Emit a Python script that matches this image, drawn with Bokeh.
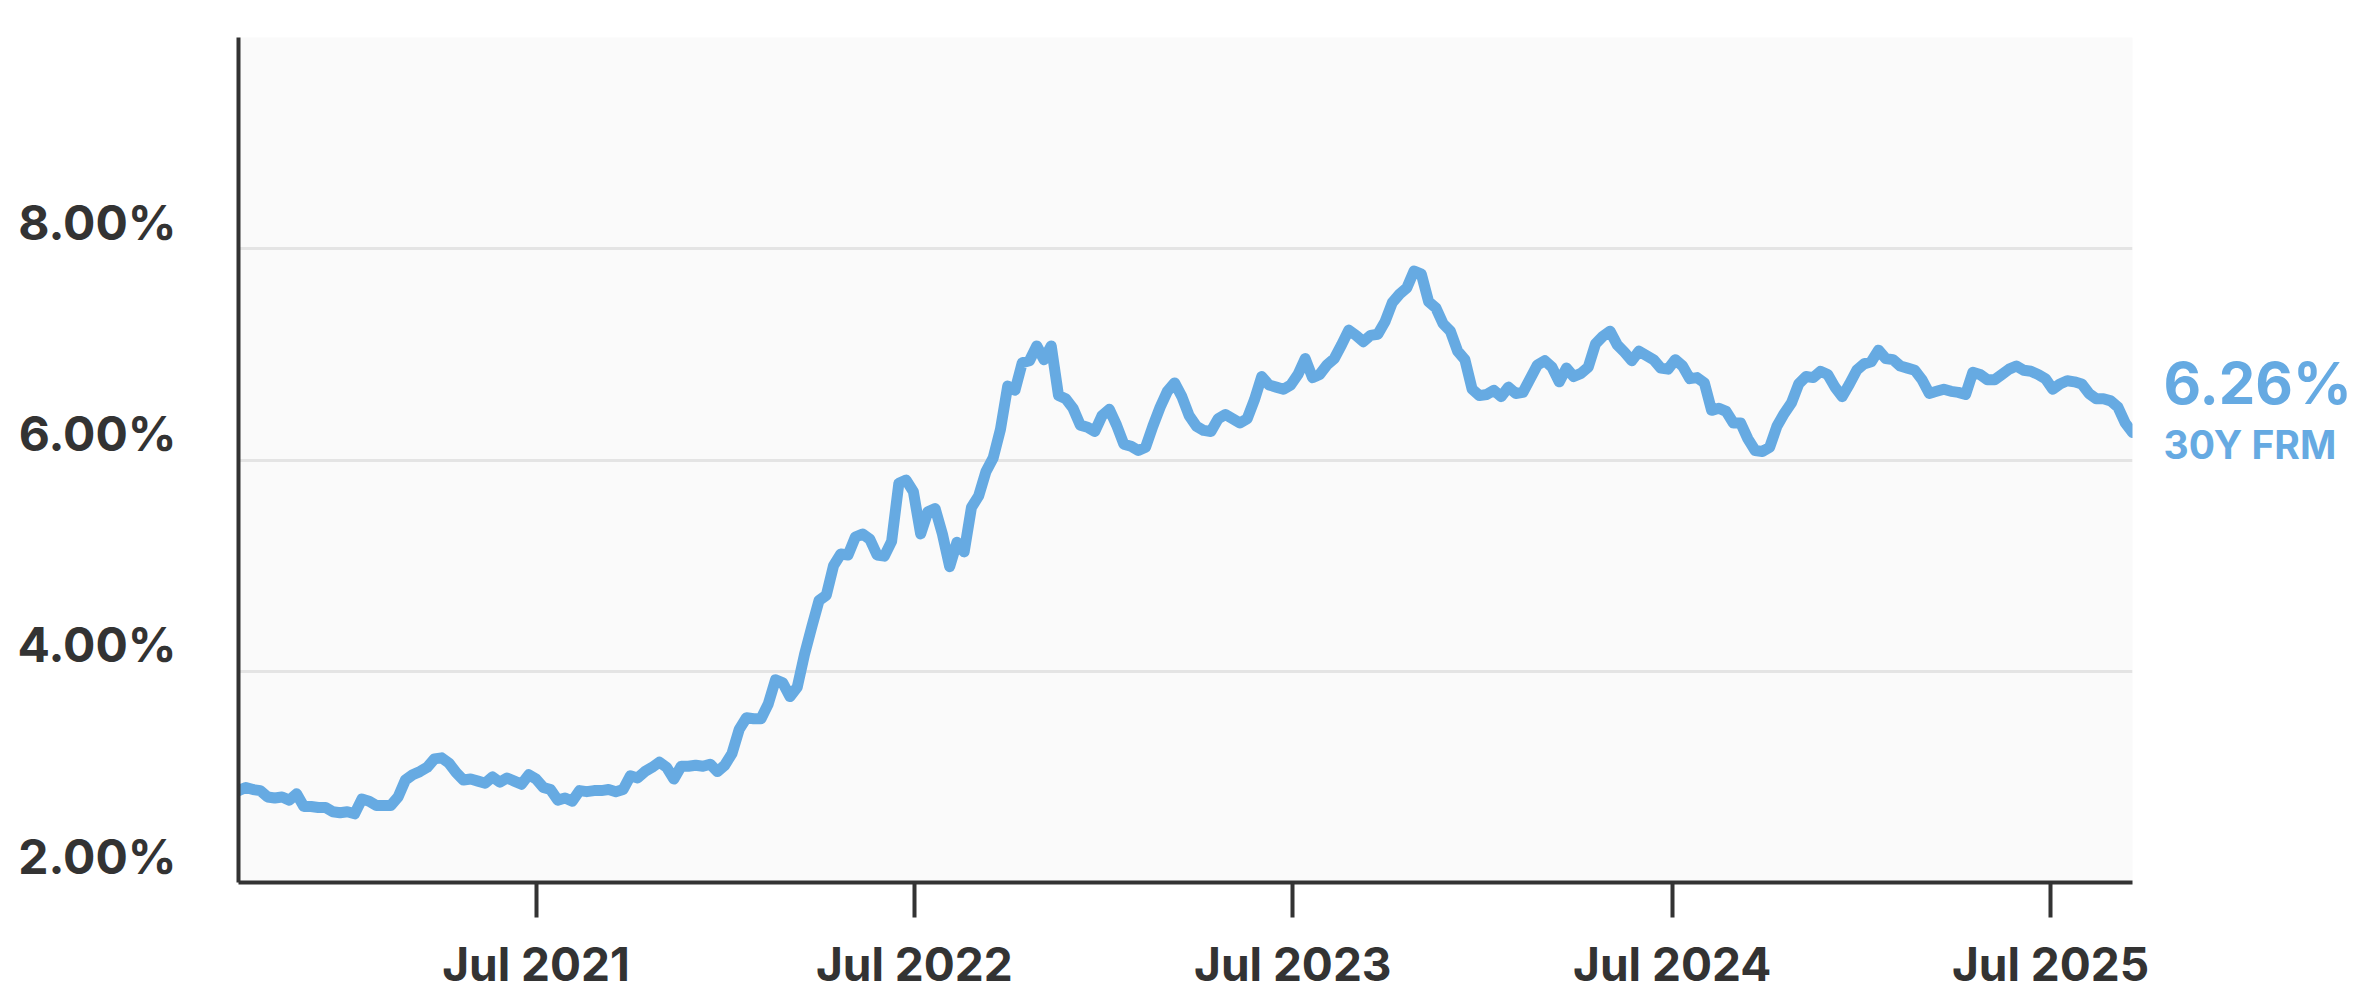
import pandas as pd
from bokeh.plotting import figure
from bokeh.layouts import row
from bokeh.models import Range1d, FixedTicker, DatetimeTickFormatter
from bokeh.embed import file_html
from bokeh.resources import INLINE

# Weekly 30-year fixed-rate mortgage average (%), first week 2020-09-17
start_date = "2020-09-17"
rates_2020 = [2.87, 2.90, 2.88, 2.87, 2.81, 2.80, 2.81, 2.78, 2.84, 2.72, 2.72,
              2.71, 2.71, 2.67, 2.66, 2.67]
rates_2021 = [2.65, 2.79, 2.77, 2.73, 2.73, 2.73, 2.81, 2.97, 3.02, 3.05, 3.09,
              3.17, 3.18, 3.13, 3.04, 2.97, 2.98, 2.96, 2.94, 3.00, 2.95, 2.99,
              2.96, 2.93, 3.02, 2.98, 2.90, 2.88, 2.78, 2.80, 2.77, 2.87, 2.86,
              2.87, 2.87, 2.88, 2.86, 2.88, 3.01, 2.99, 3.05, 3.09, 3.14, 3.09,
              2.98, 3.10, 3.10, 3.11, 3.10, 3.12, 3.05, 3.11]
rates_2022 = [3.22, 3.45, 3.56, 3.55, 3.55, 3.69, 3.92, 3.89, 3.76, 3.85, 4.16,
              4.42, 4.67, 4.72, 5.00, 5.11, 5.10, 5.27, 5.30, 5.25, 5.10, 5.09,
              5.23, 5.78, 5.81, 5.70, 5.30, 5.51, 5.54, 5.30, 4.99, 5.22, 5.13,
              5.55, 5.66, 5.89, 6.02, 6.29, 6.70, 6.66, 6.92, 6.94, 7.08, 6.95,
              7.08, 6.61, 6.58, 6.49, 6.33, 6.31, 6.27, 6.42]
rates_2023 = [6.48, 6.33, 6.15, 6.13, 6.09, 6.12, 6.32, 6.50, 6.65, 6.73, 6.60,
              6.42, 6.32, 6.28, 6.27, 6.39, 6.43, 6.39, 6.35, 6.39, 6.57, 6.79,
              6.71, 6.69, 6.67, 6.71, 6.81, 6.96, 6.78, 6.81, 6.90, 6.96, 7.09,
              7.23, 7.18, 7.12, 7.18, 7.19, 7.31, 7.49, 7.57, 7.63, 7.79, 7.76,
              7.50, 7.44, 7.29, 7.22, 7.03, 6.95, 6.67, 6.61]
rates_2024 = [6.62, 6.66, 6.60, 6.69, 6.63, 6.64, 6.77, 6.90, 6.94, 6.88, 6.74,
              6.87, 6.79, 6.82, 6.88, 7.10, 7.17, 7.22, 7.09, 7.02, 6.94, 7.03,
              6.99, 6.95, 6.87, 6.86, 6.95, 6.89, 6.77, 6.78, 6.73, 6.47, 6.49,
              6.46, 6.35, 6.35, 6.20, 6.09, 6.08, 6.12, 6.32, 6.44, 6.54, 6.72,
              6.79, 6.78, 6.84, 6.81, 6.69, 6.60, 6.72, 6.85]
rates_2025 = [6.91, 6.93, 7.04, 6.96, 6.95, 6.89, 6.87, 6.85, 6.76, 6.63, 6.65,
              6.67, 6.65, 6.64, 6.62, 6.83, 6.81, 6.76, 6.76, 6.81, 6.86, 6.89,
              6.85, 6.84, 6.81, 6.77, 6.67, 6.72, 6.75, 6.74, 6.72, 6.63, 6.58,
              6.58, 6.56, 6.50, 6.35, 6.26]

series_name = "30Y FRM"
y_tick_values = [2, 4, 6, 8]
y_tick_labels = ["2.00%", "4.00%", "6.00%", "8.00%"]
grid_values = [2, 4, 6, 8, 10]
x_tick_dates = ["2021-07-01", "2022-07-01", "2023-07-01", "2024-07-01", "2025-07-01"]

rates = rates_2020 + rates_2021 + rates_2022 + rates_2023 + rates_2024 + rates_2025
dates = pd.date_range(start=start_date, periods=len(rates), freq="7D")

FONT = "Inter"
DARK = "#333333"
BLUE = "#66AAE2"
H = 1000
TOP, BOTTOM = 37, 118

p = figure(width=2162, height=H, x_axis_type="datetime",
           output_backend="svg", toolbar_location=None,
           x_range=Range1d(dates[0], dates[-1]), y_range=Range1d(2, 10),
           min_border_left=238, min_border_right=30,
           min_border_top=TOP, min_border_bottom=BOTTOM)
p.background_fill_color = "#FAFAFA"
p.border_fill_color = "white"
p.outline_line_color = None

# x axis
xa = p.xaxis[0]
xa.ticker = FixedTicker(ticks=[pd.Timestamp(d).value / 1e6 for d in x_tick_dates])
xa.formatter = DatetimeTickFormatter(years="%b %Y", months="%b %Y", days="%b %Y")
xa.axis_line_color = DARK
xa.axis_line_width = 4
xa.major_tick_line_color = DARK
xa.major_tick_line_width = 4
xa.major_tick_out = 35
xa.major_tick_in = 0
xa.minor_tick_line_color = None
xa.major_label_text_font = FONT
xa.major_label_text_font_style = "bold"
xa.major_label_text_font_size = "46px"
xa.major_label_text_color = DARK
xa.major_label_standoff = 18

# y axis: labels sit just above their gridlines
label_lift = 0.25
ya = p.yaxis[0]
ya.ticker = FixedTicker(ticks=[v + label_lift for v in y_tick_values])
ya.major_label_overrides = {v + label_lift: t for v, t in zip(y_tick_values, y_tick_labels)}
ya.axis_line_color = DARK
ya.axis_line_width = 4
ya.major_tick_line_color = None
ya.minor_tick_line_color = None
ya.major_label_text_font = FONT
ya.major_label_text_font_style = "bold"
ya.major_label_text_font_size = "48px"
ya.major_label_text_color = DARK
ya.major_label_standoff = 56

p.xgrid.grid_line_color = None
p.ygrid.ticker = FixedTicker(ticks=grid_values)
p.ygrid.grid_line_color = "#E4E4E4"
p.ygrid.grid_line_width = 3

p.line(x=dates, y=rates, line_color=BLUE, line_width=11,
       line_join="round", line_cap="round")

# end-of-line value label, in a narrow side panel sharing the y range
last_x = dates[-1].value / 1e6
last_y = rates[-1]
side = figure(width=200, height=H, output_backend="svg", toolbar_location=None,
              x_range=Range1d(last_x, last_x + 1), y_range=p.y_range,
              x_axis_location=None, y_axis_location=None,
              min_border_left=0, min_border_right=0,
              min_border_top=TOP, min_border_bottom=BOTTOM)
side.grid.visible = False
side.outline_line_color = None
side.background_fill_color = "white"
side.border_fill_color = "white"
side.text(x=[last_x], y=[last_y], text=[f"{last_y:.2f}%"], x_offset=1, y_offset=-50,
          text_baseline="alphabetic", text_align="left",
          text_font={"value": FONT}, text_font_style="bold", text_font_size="58px",
          text_color=BLUE)
side.text(x=[last_x], y=[last_y], text=[series_name], x_offset=1, y_offset=12,
          text_baseline="alphabetic", text_align="left",
          text_font={"value": FONT}, text_font_style="bold", text_font_size="39px",
          text_color=BLUE)

layout = row(p, side, spacing=0)
open("out.html", "w").write(file_html(layout, INLINE))
